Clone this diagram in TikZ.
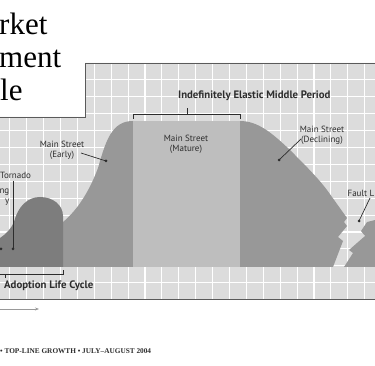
\documentclass[tikz,border=0pt]{standalone}
\usepackage{fontspec}
\setmainfont{Liberation Serif}
\newfontfamily\lab{PT Sans}
\usetikzlibrary{arrows.meta}
\definecolor{gridbg}{RGB}{220,220,220}
\definecolor{humpc}{RGB}{125,125,125}
\definecolor{earlyc}{RGB}{152,152,152}
\definecolor{maturec}{RGB}{190,190,190}
\definecolor{inkc}{RGB}{45,45,45}
\definecolor{framec}{RGB}{90,90,90}
\tikzset{
  gridline/.style={white,line width=1.1pt},
  frameline/.style={framec,line width=0.9pt},
  brk/.style={inkc,line width=0.9pt},
  pointer/.style={inkc,line width=0.7pt},
  lbl/.style={font=\lab\fontsize{9}{10}\selectfont,text=inkc,align=center,inner sep=0pt},
  blbl/.style={font=\lab\bfseries\fontsize{10.8}{12}\selectfont,text=inkc,inner sep=0pt},
  ttl/.style={font=\fontsize{31}{33}\selectfont,text=black,inner sep=0pt,anchor=base west},
}
\begin{document}
\begin{tikzpicture}[x=1pt,y=-1pt]
\useasboundingbox (0,0) rectangle (375,366);
% panel
\fill[gridbg] (0,117) -- (85,117) -- (85,63) -- (375,63) -- (375,299.5) -- (0,299.5) -- cycle;
\begin{scope}
\clip (0,117) -- (85,117) -- (85,63) -- (375,63) -- (375,299.5) -- (0,299.5) -- cycle;
\foreach \i in {0,...,21} \draw[gridline] ({9.8+16.9*\i},60) -- ({9.8+16.9*\i},300);
\foreach \j in {1,...,13} \draw[gridline] (0,{63+16.9*\j}) -- (375,{63+16.9*\j});
\end{scope}
% shapes
\fill[earlyc] (55,230) -- (63,222) .. controls (75,212) and (88,195) .. (98,168)
  .. controls (106,140) and (112,121) .. (133,121) -- (133,267) -- (55,267) -- cycle;
\fill[humpc] (0,238) .. controls (6,234) and (11,229) .. (14,222)
  .. controls (18,206) and (28,197) .. (40,197)
  .. controls (53,197) and (63,205) .. (63,216) -- (63,267) -- (0,267) -- cycle;
\fill[maturec] (133,121) rectangle (240,267);
\fill[earlyc] (240,121) .. controls (258,121) and (272,133) .. (290,150)
  .. controls (305,165) and (318,178) .. (327,190)
  -- (347,218) -- (344,222) -- (347,226) -- (338,237) -- (343,241) -- (333,267)
  -- (240,267) -- cycle;
\fill[earlyc] (375,220) -- (367,222) -- (361,231) -- (365,236) -- (349,250)
  -- (353,253) -- (344,267) -- (375,267) -- cycle;
% frame
\draw[frameline] (0,117) -- (85,117) -- (85,63) -- (375,63);
\draw[framec,line width=1.6pt] (0,299.5) -- (375,299.5);
% title
\node[ttl] (t1) at (-1,35) {rket};
\node[ttl] (t2) at (-1,68) {ment};
\node[ttl] (t3) at (0,101) {le};
% top bracket
\coordinate (bl) at (133,119);
\coordinate (br) at (240,119);
\coordinate (bm) at (187,114);
\coordinate (bt) at (187,108);
\draw[brk] (bl) -- (133,114) -- (240,114) -- (br);
\draw[brk] (bm) -- (bt);
\node[blbl,anchor=west] (elastic) at (178,96) {Indefinitely Elastic Middle Period};
% labels
\node[lbl] (early) at (62,150.5) {Main Street\\(Early)};
\coordinate (earlyd) at (106,161);
\draw[pointer] (81,153) -- (earlyd);
\fill[inkc] (earlyd) circle (1.5);
\node[lbl] (mature) at (186,144) {Main Street\\(Mature)};
\node[lbl] (decl) at (322,135) {Main Street\\(Declining)};
\coordinate (decld) at (279,160);
\draw[pointer] (301,139) -- (decld);
\fill[inkc] (decld) circle (1.5);
\node[lbl,anchor=west] (torn) at (0,175) {Tornado};
\coordinate (tornt) at (13,181);
\coordinate (tornd) at (13,249);
\draw[pointer] (tornt) -- (tornd);
\fill[inkc] (tornd) circle (1.5);
\node[lbl,align=right,anchor=east] (bowl) at (9.5,197) {ng\\y};
\coordinate (bowld) at (1,249);
\fill[inkc] (bowld) circle (1.5);
\node[lbl,anchor=east] (fault) at (374.5,193) {Fault L};
\coordinate (faultt) at (370,198);
\coordinate (faultd) at (359,221);
\draw[pointer] (faultt) -- (faultd);
\fill[inkc] (faultd) circle (1.5);
% adoption bracket
\coordinate (al) at (0,274.5);
\coordinate (ar) at (63,270);
\draw[brk] (al) -- (63,274.5) -- (ar);
\draw[brk] (5,274.5) -- (5,278.5);
\node[blbl,anchor=west] (adopt) at (4,286) {Adoption Life Cycle};
% time arrow
\coordinate (ta) at (0,309);
\coordinate (tb) at (39,309);
\draw[gray!80,line width=0.8pt,-{Stealth[length=4pt,width=3pt]}] (ta) -- (tb);
% footer
\node[font=\bfseries\fontsize{7.3}{8}\selectfont,text=inkc,anchor=west,inner sep=0pt] (foot) at (0,351) {•\ TOP-LINE GROWTH • JULY–AUGUST 2004};
\end{tikzpicture}
\end{document}
